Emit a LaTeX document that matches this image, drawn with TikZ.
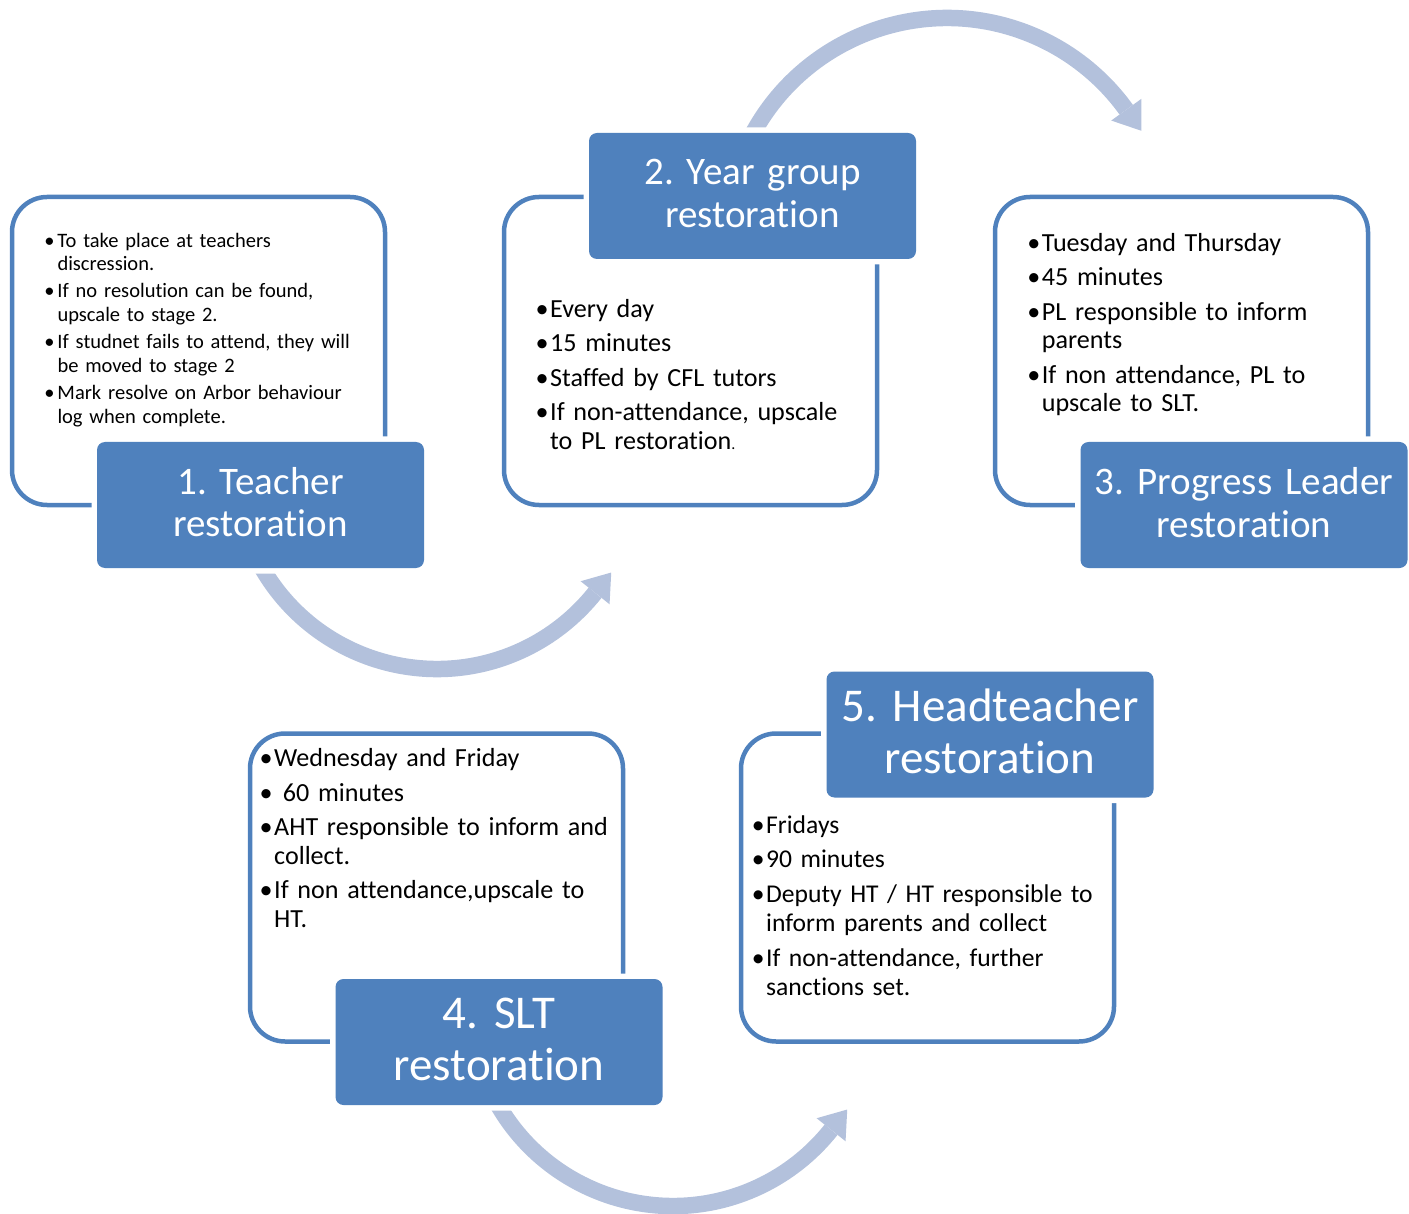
\documentclass[tikz,border=0pt]{standalone}
\usepackage{fontspec}
\setmainfont{Carlito}[Ligatures=NoCommon]
\frenchspacing
\definecolor{accent}{RGB}{79,129,189}
\definecolor{arrowc}{RGB}{179,193,220}
\newcommand{\fitm}[1][1.5pt]{\noindent\llap{•\hspace{#1}}}
\newcommand{\itm}[1][1.5pt]{\par\noindent\llap{•\hspace{#1}}}
\tikzset{
  outline/.style={draw=accent, line width=4.5pt, rounded corners=35pt,
    minimum width=373pt, minimum height=308pt, inner sep=0pt},
  stagebox/.style={fill=accent, rounded corners=8pt, minimum width=327pt,
    minimum height=126pt, inner sep=0pt, preaction={draw=white, line width=11pt}},
  stagetext/.style={text=white, text width=340pt, align=center, anchor=base, inner sep=0pt,
    execute at begin node={\frenchspacing}},
  stagemid/.style={stagetext, font=\fontsize{39}{43}\selectfont},
  stagebig/.style={stagetext, font=\fontsize{47}{51.7}\selectfont},
  band/.style={draw=arrowc, line width=16.5pt},
  head/.style={fill=arrowc},
  items/.style={anchor=base west, inner sep=0pt, text width=380pt, align=left,
    font=\fontsize{26.1}{28.7}\selectfont,
    execute at begin node={\setlength{\parskip}{5.6pt}\frenchspacing}},
  itemssmall/.style={items, font=\fontsize{20.5}{23.7}\selectfont,
    execute at begin node={\setlength{\parskip}{3.3pt}\frenchspacing}},
}
\begin{document}
\begin{tikzpicture}[x=1pt,y=-1pt]
\useasboundingbox (0,0) rectangle (1409,1214);
% arrow centres
\coordinate (c1) at (437,467);
\coordinate (c2) at (947,239);
\coordinate (c3) at (673,1004);
% arrow 1
\draw[band] (c1) ++(155:202) arc[start angle=155, end angle=38.5, radius=202];
\fill[head] ([shift={(38.5:220.5)}]c1) -- ([shift={(31.2:203.7)}]c1) -- ([shift={(38.5:183.5)}]c1) -- cycle;
% arrow 2
\draw[band] (c2) ++(205:221) arc[start angle=205, end angle=324.2, radius=221];
\fill[head] ([shift={(324.2:239.5)}]c2) -- ([shift={(330.9:222.5)}]c2) -- ([shift={(324.2:202.5)}]c2) -- cycle;
% arrow 3
\draw[band] (c3) ++(155:202) arc[start angle=155, end angle=38.5, radius=202];
\fill[head] ([shift={(38.5:220.5)}]c3) -- ([shift={(31.2:203.7)}]c3) -- ([shift={(38.5:183.5)}]c3) -- cycle;
% outlines
\node[outline] (b1) at (198.5,351) {};
\node[outline] (b2) at (690.5,351) {};
\node[outline] (b3) at (1181.5,351) {};
\node[outline] (b4) at (436.5,887.5) {};
\node[outline] (b5) at (927.5,887.5) {};
% stage boxes
\node[stagebox] (l1) at (260.5,505) {};
\node[stagebox] (l2) at (752.5,196) {};
\node[stagebox] (l3) at (1244,505) {};
\node[stagebox] (l4) at (499,1042) {};
\node[stagebox] (l5) at (990,734.5) {};
% stage texts
\node[stagemid] (s1) at (260.5,494) {1. Teacher\\restoration};
\node[stagemid] (s2) at (752.5,185) {2. Year group\\restoration};
\node[stagemid] (s3) at (1244,495) {3. Progress Leader\\restoration};
\node[stagebig] (s4) at (499,1028.3) {4. SLT\\restoration};
\node[stagebig] (s5) at (990,721.7) {5. Headteacher\\restoration};
% item texts
\node[itemssmall] (t1) at (57.3,247.3) {%
\fitm[3pt]To take place at teachers\\discression.
\itm[3pt]If no resolution can be found,\\upscale to stage 2.
\itm[3pt]If studnet fails to attend, they will\\be moved to stage 2
\itm[3pt]Mark resolve on Arbor behaviour\\log when complete.};
\node[items] (t2) at (550,317.7) {%
\fitm Every day
\itm 15 minutes
\itm Staffed by CFL tutors
\itm If non-attendance, upscale\\to PL restoration{\fontsize{16}{16}\selectfont.}};
\node[items] (t3) at (1041.7,251.7) {%
\fitm Tuesday and Thursday
\itm 45 minutes
\itm PL responsible to inform\\parents
\itm If non attendance, PL to\\upscale to SLT.};
\node[items] (t4) at (274,766.7) {%
\fitm Wednesday and Friday
\itm\ 60 minutes
\itm AHT responsible to inform and\\collect.
\itm If non attendance,upscale to\\HT.};
\node[items, font=\fontsize{25.6}{29}\selectfont] (t5) at (766,833.3) {%
\fitm Fridays
\itm 90 minutes
\itm Deputy HT / HT responsible to\\inform parents and collect
\itm If non-attendance, further\\sanctions set.};
\end{tikzpicture}
\end{document}
